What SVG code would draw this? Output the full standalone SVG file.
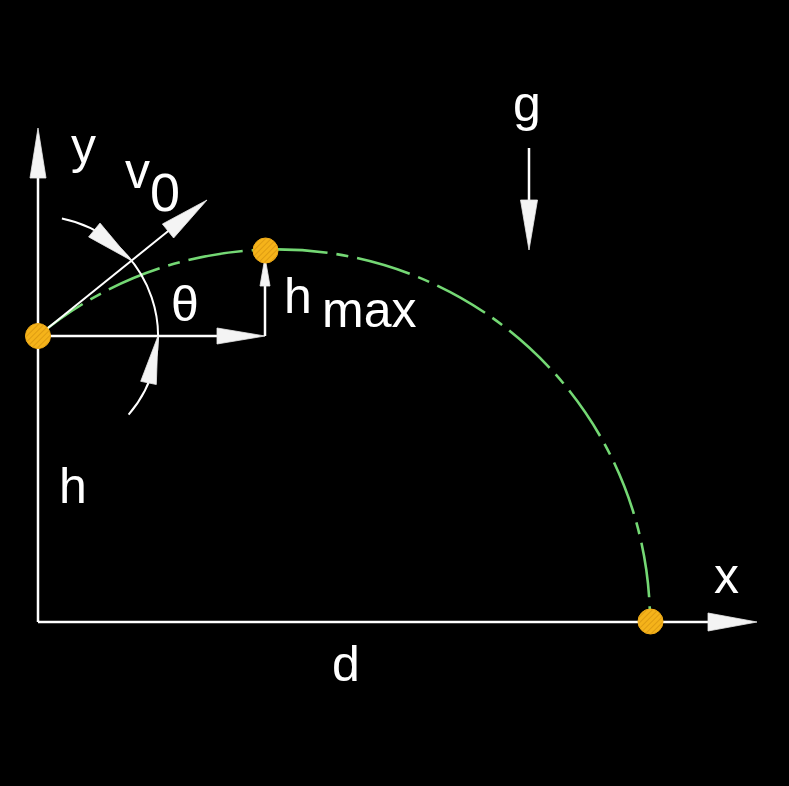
<svg xmlns="http://www.w3.org/2000/svg" width="789" height="786" viewBox="0 0 789 786">
<style>
.ln{stroke:#ffffff;stroke-width:2.5;fill:none}
.thin{stroke:#ffffff;stroke-width:2;fill:none}
.head{fill:#f4f4f4;stroke:#e8e8e8;stroke-width:0.8}
.traj{stroke:#74d874;stroke-width:2.6;fill:none;stroke-dasharray:55 9 12 9}
.pt{fill:url(#hatch);stroke:#f2ad18;stroke-width:1}
.lbl{font-family:"Liberation Sans",Arial,sans-serif;font-size:50px;fill:#ffffff}
</style>
<defs>
<pattern id="hatch" width="4" height="4" patternUnits="userSpaceOnUse" patternTransform="rotate(45)">
<rect width="4" height="4" fill="#f5b31a"/>
<line x1="0" y1="0" x2="0" y2="4" stroke="#cf8d0c" stroke-width="1.2"/>
</pattern>
</defs>
<rect width="789" height="786" fill="#000000"/>
<g id="connectors">
<path class="traj" d="M38,336 A373,373 0 0 1 650,622"/>
<line class="ln" x1="38" y1="622" x2="38" y2="170"/>
<polygon class="head" points="38,128 30,178 46,178"/>
<line class="ln" x1="38" y1="622" x2="712" y2="622"/>
<polygon class="head" points="757,622 708,613 708,631"/>
<line class="ln" x1="38" y1="336" x2="222" y2="336"/>
<polygon class="head" points="265,336 217,328 217,344"/>
<line class="ln" x1="265" y1="336" x2="265" y2="280"/>
<polygon class="head" points="265,257 260,286 270,286"/>
<line class="thin" x1="38" y1="336" x2="172" y2="228"/>
<polygon class="head" points="207,200 162.4,224 173.6,238"/>
<path class="thin" d="M61.9,218.4 A120,120 0 0 1 128.6,414.7"/>
<polygon class="head" points="131.3,260.5 88.6,236.9 100,223.1"/>
<polygon class="head" points="158,336 156.3,384.5 140.7,381.3"/>
<line class="ln" x1="529" y1="148" x2="529" y2="205"/>
<polygon class="head" points="529,250 520.5,200 537.5,200"/>
</g>
<g id="launch"><circle class="pt" cx="38" cy="336" r="12.5"/></g>
<g id="peak"><circle class="pt" cx="265.5" cy="250.5" r="12.5"/></g>
<g id="landing"><circle class="pt" cx="650.5" cy="621.5" r="12.5"/></g>
<g id="labels">
<text class="lbl" x="71" y="163">y</text>
<text class="lbl" x="125" y="188">v</text>
<text class="lbl" x="150" y="211" style="font-size:54px">0</text>
<text class="lbl" x="171" y="321">θ</text>
<text class="lbl" x="284" y="313">h</text>
<text class="lbl" x="322" y="327">max</text>
<text class="lbl" x="513" y="121">g</text>
<text class="lbl" x="59" y="503">h</text>
<text class="lbl" x="332" y="681">d</text>
<text class="lbl" x="714" y="593">x</text>
</g>
</svg>
